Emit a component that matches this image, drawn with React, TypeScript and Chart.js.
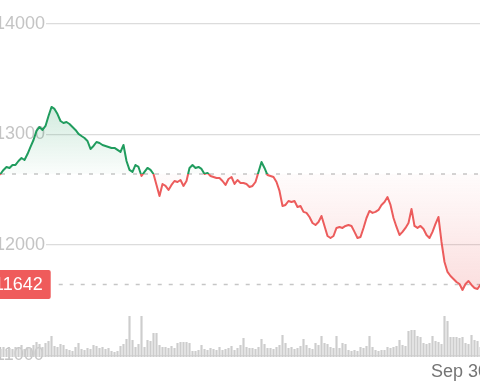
import React, { useEffect, useRef } from "react";
import { Chart, registerables } from "chart.js";

Chart.register(...registerables);

// Price series (one point per session)
const prices = [
  12642, 12633, 12624, 12642, 12679, 12706, 12697, 12724, 12724, 12760,
  12787, 12769, 12823, 12887, 12950, 13032, 13068, 13041, 13077, 13167,
  13249, 13231, 13185, 13122, 13104, 13113, 13095, 13068, 13041, 13005,
  12986, 12968, 12941, 12869, 12896, 12932, 12923, 12905, 12896, 12887,
  12878, 12878, 12860, 12842, 12905, 12760, 12679, 12661, 12724, 12706,
  12624, 12661, 12697, 12679, 12642, 12543, 12443, 12552, 12534, 12498,
  12543, 12579, 12570, 12588, 12534, 12579, 12697, 12724, 12697, 12706,
  12688, 12642, 12652, 12624, 12615, 12606, 12606, 12579, 12543, 12597,
  12615, 12552, 12588, 12561, 12561, 12552, 12525, 12534, 12570, 12661,
  12751, 12697, 12633, 12624, 12615, 12570, 12489, 12353, 12362, 12398,
  12389, 12398, 12344, 12353, 12299, 12290, 12253, 12199, 12181, 12208,
  12262, 12172, 12081, 12063, 12081, 12154, 12163, 12154, 12172, 12181,
  12172, 12118, 12063, 12072, 12154, 12244, 12308, 12290, 12299, 12317,
  12362, 12389, 12434, 12362, 12244, 12163, 12090, 12118, 12154, 12199,
  12326, 12172, 12154, 12172, 12145, 12090, 12063, 12118, 12190, 12253,
  12027, 11846, 11756, 11719, 11692, 11665, 11647, 11593, 11647, 11674,
  11638, 11611, 11602, 11642,
];

// Volume series (relative units)
const volumes = [
  160, 180, 140, 160, 200, 140, 180, 160, 200, 180,
  240, 160, 200, 180, 240, 300, 260, 200, 280, 320,
  420, 220, 200, 260, 240, 160, 140, 120, 200, 280,
  160, 140, 180, 160, 240, 220, 180, 200, 160, 180,
  120, 100, 120, 220, 260, 360, 820, 340, 200, 260,
  820, 200, 340, 320, 480, 480, 240, 200, 200, 180,
  220, 180, 280, 300, 300, 300, 280, 120, 120, 140,
  240, 160, 140, 180, 160, 140, 200, 140, 160, 180,
  220, 140, 180, 240, 380, 200, 180, 180, 160, 200,
  360, 260, 180, 180, 160, 200, 240, 440, 280, 180,
  200, 160, 180, 220, 360, 240, 180, 160, 280, 240,
  420, 280, 260, 200, 180, 420, 180, 280, 260, 140,
  120, 140, 120, 200, 180, 220, 420, 200, 140, 120,
  140, 140, 200, 180, 200, 220, 340, 240, 220, 520,
  540, 540, 420, 400, 280, 260, 280, 420, 320, 300,
  260, 820, 720, 400, 400, 400, 380, 400, 280, 260,
  440, 340, 320, 200,
];

const categories = prices.map((_, i) => String(i));
const yTicks = [11000, 12000, 13000, 14000];
const xTickIndex = [156];
const xTickLabels = ["Sep 30"];
const basePrice = 12643;
const lastPrice = 11642;

const FONT = '"Liberation Sans", Arial, Helvetica, sans-serif';
const GREEN = "rgb(32,156,94)";
const RED = "rgb(236,92,92)";

function clamp01(v: number) {
  return Math.max(0, Math.min(1, v));
}

const refPlugin = {
  id: "refLines",
  beforeDatasetsDraw(chart: any) {
    const { ctx, chartArea: a, scales } = chart;
    const y = scales.y;
    ctx.save();
    ctx.setLineDash([4, 7]);
    ctx.strokeStyle = "#c6c6c6";
    ctx.lineWidth = 1.5;
    const yb = y.getPixelForValue(basePrice);
    ctx.beginPath();
    ctx.moveTo(a.left, yb);
    ctx.lineTo(a.right, yb);
    ctx.stroke();
    ctx.font = `18px ${FONT}`;
    const tw = ctx.measureText(String(lastPrice)).width;
    const boxRight = a.left + 4 + tw + 8;
    const yl = y.getPixelForValue(lastPrice);
    ctx.beginPath();
    ctx.moveTo(boxRight + 8, yl);
    ctx.lineTo(a.right, yl);
    ctx.stroke();
    ctx.restore();
  },
  afterDatasetsDraw(chart: any) {
    const { ctx, chartArea: a, scales } = chart;
    const y = scales.y;
    const yl = y.getPixelForValue(lastPrice);
    ctx.save();
    ctx.font = `18px ${FONT}`;
    const txt = String(lastPrice);
    const tw = ctx.measureText(txt).width;
    const left = a.left;
    const right = a.left + 4 + tw + 8;
    ctx.fillStyle = "#ef5b5b";
    ctx.beginPath();
    if ((ctx as any).roundRect) {
      (ctx as any).roundRect(left, yl - 14.5, right - left, 29, 2);
    } else {
      ctx.rect(left, yl - 14.5, right - left, 29);
    }
    ctx.fill();
    ctx.fillStyle = "#ffffff";
    ctx.textBaseline = "middle";
    ctx.textAlign = "left";
    ctx.fillText(txt, left + 4, yl + 1);
    ctx.restore();
  },
};

export default function App() {
  const ref = useRef<HTMLCanvasElement>(null);

  useEffect(() => {
    const canvas = ref.current!;
    const chart = new Chart(canvas, {
      type: "bar",
      data: {
        labels: categories,
        datasets: [
          {
            type: "line",
            label: "Price",
            data: prices,
            yAxisID: "y",
            order: 0,
            borderWidth: 2,
            pointRadius: 0,
            pointHoverRadius: 0,
            tension: 0,
            borderJoinStyle: "round",
            borderCapStyle: "round",
            fill: { value: basePrice },
            borderColor: (c: any) => {
              const ch = c.chart;
              const area = ch.chartArea;
              if (!area) return GREEN;
              const yb = ch.scales.y.getPixelForValue(basePrice);
              const f = clamp01((yb - area.top) / (area.bottom - area.top));
              const g = ch.ctx.createLinearGradient(0, area.top, 0, area.bottom);
              g.addColorStop(0, GREEN);
              g.addColorStop(f, GREEN);
              g.addColorStop(Math.min(1, f + 0.0005), RED);
              g.addColorStop(1, RED);
              return g;
            },
            backgroundColor: (c: any) => {
              const ch = c.chart;
              const area = ch.chartArea;
              if (!area) return "rgba(0,0,0,0)";
              const ys = ch.scales.y;
              const h = area.bottom - area.top;
              const f = clamp01((ys.getPixelForValue(basePrice) - area.top) / h);
              const fHi = clamp01((ys.getPixelForValue(Math.max(...prices)) - area.top) / h);
              const fLo = clamp01((ys.getPixelForValue(Math.min(...prices)) - area.top) / h);
              const g = ch.ctx.createLinearGradient(0, area.top, 0, area.bottom);
              g.addColorStop(0, "rgba(32,156,94,0.2)");
              g.addColorStop(fHi, "rgba(32,156,94,0.2)");
              g.addColorStop(f, "rgba(32,156,94,0.02)");
              g.addColorStop(Math.min(1, f + 0.0005), "rgba(236,92,92,0.02)");
              g.addColorStop(fLo, "rgba(236,92,92,0.2)");
              g.addColorStop(1, "rgba(236,92,92,0.2)");
              return g;
            },
          } as any,
          {
            type: "bar",
            label: "Volume",
            data: volumes,
            yAxisID: "yv",
            order: 1,
            backgroundColor: "#cdcdcd",
            borderWidth: 0,
            barPercentage: 0.72,
            categoryPercentage: 1,
          },
        ],
      },
      options: {
        responsive: false,
        animation: false,
        layout: { padding: { left: 0, right: 8, top: 0, bottom: 0 } },
        plugins: {
          legend: { display: false },
          tooltip: { enabled: false },
        },
        scales: {
          x: {
            type: "category",
            offset: true,
            grid: { display: false, drawTicks: false },
            border: { display: false },
            ticks: {
              autoSkip: false,
              maxRotation: 0,
              minRotation: 0,
              padding: 4,
              color: "#757575",
              font: { size: 18, family: FONT },
              callback: (_v: any, i: number) => {
                const k = xTickIndex.indexOf(i);
                return k >= 0 ? xTickLabels[k] : "";
              },
            },
            afterFit: (s: any) => {
              s.height = 27;
              s.paddingLeft = 0;
              s.paddingRight = 0;
            },
          },
          y: {
            position: "left",
            min: 10986,
            max: 14217,
            afterFit: (s: any) => {
              s.width = 0;
              s.paddingTop = 0;
              s.paddingBottom = 0;
            },
            afterBuildTicks: (s: any) => {
              s.ticks = yTicks.map((v) => ({ value: v }));
            },
            grid: { color: "#dcdcdc", lineWidth: 1.2, drawTicks: false },
            border: { display: false },
            ticks: {
              mirror: true,
              padding: 5,
              color: "#c4c4c4",
              font: { size: 18, family: FONT },
              callback: (v: any) => String(v),
              showLabelBackdrop: true,
              backdropColor: "#ffffff",
              backdropPadding: { top: 0, bottom: 0, left: 0, right: 1 },
            } as any,
          },
          yv: {
            display: false,
            position: "right",
            min: 0,
            max: 7140,
          },
        },
      } as any,
      plugins: [refPlugin],
    });
    return () => chart.destroy();
  }, []);

  return (
    <div
      style={{
        position: "fixed",
        left: 0,
        top: 0,
        width: 480,
        height: 384,
        overflow: "hidden",
        background: "#fff",
      }}
    >
      <canvas
        ref={ref}
        width={500}
        height={384}
        style={{ position: "absolute", left: -10, top: 0, display: "block" }}
      />
    </div>
  );
}
